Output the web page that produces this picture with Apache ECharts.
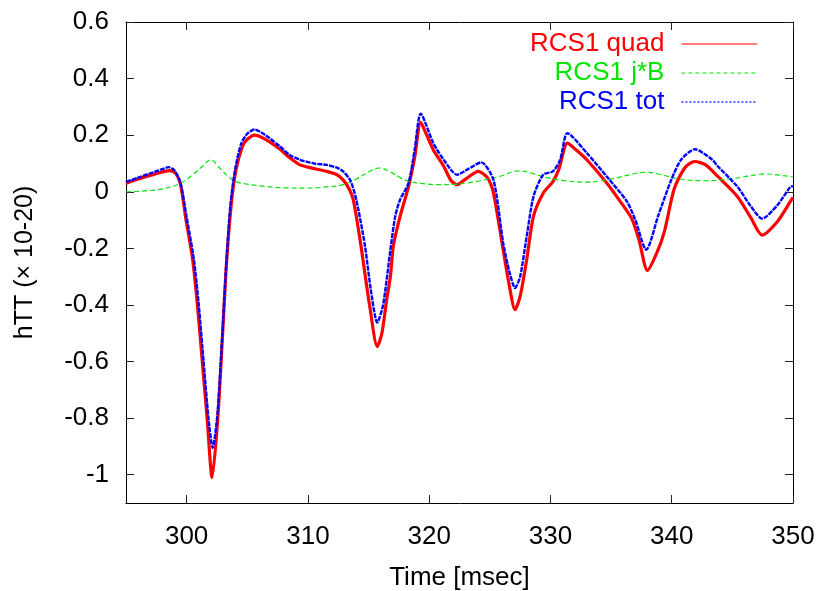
<!DOCTYPE html>
<html><head><meta charset="utf-8">
<script src="https://cdn.jsdelivr.net/npm/echarts@6/dist/echarts.min.js"></script>
<style>html,body{margin:0;padding:0;background:#fff}#c{width:819px;height:591px}</style>
</head><body><div id="c"></div><script>
const xTicks = [300, 310, 320, 330, 340, 350];
const yTicks = [-1, -0.8, -0.6, -0.4, -0.2, 0, 0.2, 0.4, 0.6];
const seriesNames = ['RCS1 quad', 'RCS1 j*B', 'RCS1 tot'];

const quadT = [295.0,296.0,297.0,298.0,298.6,299.1,299.5,299.95,300.5,300.9,301.3,301.7,302.1,302.56,302.97,303.25,303.66,304.07,304.6,305.0,305.6,306.5,307.7,308.5,309.35,310.5,311.55,312.4,312.9,313.4,313.75,314.3,315.1,315.72,316.1,316.5,316.8,317.05,317.6,318.3,318.8,319.3,319.8,320.34,321.2,321.8,322.3,323.0,324.05,324.8,325.3,326.1,326.6,327.08,327.5,328.04,328.6,329.4,330.2,330.7,331.4,332.2,333.0,334.64,335.6,336.7,337.3,338.0,338.76,339.4,340.2,341.1,341.9,342.8,343.8,345.4,346.5,347.45,348.7,349.76,350.0];
const quadV = [0.030,0.045,0.058,0.070,0.075,0.065,0.025,-0.10,-0.24,-0.405,-0.605,-0.806,-1.01,-0.806,-0.50,-0.276,-0.052,0.078,0.16,0.185,0.20,0.185,0.150,0.120,0.095,0.082,0.072,0.060,0.042,0.01,-0.03,-0.17,-0.405,-0.547,-0.50,-0.38,-0.30,-0.19,-0.087,0.019,0.12,0.245,0.20,0.148,0.09,0.04,0.025,0.045,0.072,0.05,-0.005,-0.205,-0.33,-0.417,-0.37,-0.24,-0.087,-0.005,0.036,0.08,0.172,0.145,0.113,0.031,-0.025,-0.095,-0.17,-0.278,-0.217,-0.14,0.01,0.086,0.107,0.095,0.054,-0.016,-0.09,-0.153,-0.106,-0.036,-0.02];

const jbT = [295,296.5,298,299.5,300.5,301.3,302.0,302.7,303.4,304.07,305.0,306.5,308.0,309.9,311.5,312.9,314.0,315.0,315.9,316.8,317.6,318.4,319.5,320.9,322.0,323.1,324.2,325.8,327.4,328.5,329.6,331.0,332.9,335.1,336.5,337.8,339.0,340.5,342.7,344.9,346.3,347.6,349.8,350];
const jbV = [0.0,0.003,0.01,0.03,0.06,0.09,0.113,0.085,0.055,0.036,0.027,0.019,0.014,0.013,0.017,0.025,0.045,0.07,0.084,0.07,0.05,0.036,0.029,0.025,0.026,0.031,0.039,0.054,0.074,0.065,0.051,0.04,0.034,0.046,0.06,0.069,0.062,0.046,0.039,0.046,0.055,0.063,0.054,0.053];

const totT = [295.0,296.0,297.0,298.0,298.5,299.0,299.5,300.0,300.6,301.0,301.4,301.8,302.15,302.55,302.95,303.25,303.6,304.0,304.5,305.0,305.6,306.5,307.7,308.5,309.35,310.5,311.55,312.4,312.9,313.5,314.0,314.7,315.2,315.72,316.2,316.8,317.2,317.6,318.3,318.8,319.3,320.34,321.2,322.3,323.2,324.3,325.3,326.1,326.6,327.08,327.5,328.04,328.6,329.4,330.2,330.8,331.4,333.0,334.64,336.3,337.0,337.9,338.9,340.0,340.8,341.9,343.3,343.8,345.4,346.5,347.45,348.7,349.76,350.0];
const totV = [0.035,0.05,0.065,0.08,0.087,0.075,0.03,-0.09,-0.24,-0.40,-0.60,-0.80,-0.905,-0.78,-0.50,-0.27,-0.05,0.08,0.17,0.205,0.22,0.20,0.16,0.13,0.113,0.10,0.095,0.085,0.072,0.04,-0.03,-0.19,-0.35,-0.462,-0.40,-0.205,-0.087,-0.028,0.031,0.148,0.276,0.172,0.113,0.06,0.08,0.104,0.042,-0.18,-0.28,-0.34,-0.30,-0.158,-0.017,0.06,0.072,0.113,0.207,0.137,0.054,-0.034,-0.10,-0.205,-0.083,0.046,0.115,0.15,0.115,0.09,0.019,-0.05,-0.095,-0.048,0.016,0.02];

function pairs(t, v) { return t.map((x, i) => [x, v[i]]); }
const FONT = 'Liberation Sans, Arial, sans-serif';
const RED = '#ff0000', GREEN = '#00e600', BLUE = '#0000ff';
const chart = echarts.init(document.getElementById('c'), null, {renderer: 'canvas'});
const axisCommon = {
  axisLine: {show: true, onZero: false, lineStyle: {color: '#000', width: 1}},
  axisTick: {show: true, inside: true, length: 8, lineStyle: {color: '#222', width: 1}},
  splitLine: {show: false}
};
chart.setOption({
  animation: false,
  backgroundColor: '#fff',
  grid: {left: 126, right: 26, top: 22, bottom: 88, containLabel: false, outerBoundsMode: 'none'},
  xAxis: [
    Object.assign({}, axisCommon, {
      type: 'value', min: 295, max: 350, position: 'bottom',
      axisTick: Object.assign({}, axisCommon.axisTick, {customValues: xTicks}),
      axisLabel: {customValues: xTicks, fontFamily: FONT, fontSize: 26, color: '#000', margin: 21},
      name: 'Time [msec]', nameLocation: 'middle', nameGap: 62,
      nameTextStyle: {fontFamily: FONT, fontSize: 26, color: '#000'}
    }),
    Object.assign({}, axisCommon, {
      type: 'value', min: 295, max: 350, position: 'top',
      axisTick: Object.assign({}, axisCommon.axisTick, {customValues: xTicks}),
      axisLabel: {show: false}
    })
  ],
  yAxis: [
    Object.assign({}, axisCommon, {
      type: 'value', min: -1.1, max: 0.6, position: 'left',
      axisTick: Object.assign({}, axisCommon.axisTick, {customValues: yTicks}),
      axisLabel: {customValues: yTicks, fontFamily: FONT, fontSize: 26, color: '#000', margin: 17,
        formatter: v => String(Math.round(v * 10) / 10)},
      name: 'hTT (× 10-20)', nameLocation: 'middle', nameGap: 88, nameRotate: 90,
      nameTextStyle: {fontFamily: FONT, fontSize: 25, color: '#000'}
    }),
    Object.assign({}, axisCommon, {
      type: 'value', min: -1.1, max: 0.6, position: 'right',
      axisTick: Object.assign({}, axisCommon.axisTick, {customValues: yTicks}),
      axisLabel: {show: false}
    })
  ],
  legend: {
    orient: 'vertical', align: 'right', right: 61, top: 30, padding: 0,
    itemWidth: 76, itemHeight: 14, itemGap: 1,
    itemStyle: {opacity: 0, borderWidth: 0},
    textStyle: {fontFamily: FONT, fontSize: 26, lineHeight: 28, padding: [0, 12, 0, 0]},
    data: [
      {name: seriesNames[0], textStyle: {color: RED}, itemStyle: {opacity: 0}, lineStyle: {width: 1.2, type: 'solid', color: RED}},
      {name: seriesNames[1], textStyle: {color: GREEN}, itemStyle: {opacity: 0}, lineStyle: {width: 1.2, type: [4, 3], color: GREEN}},
      {name: seriesNames[2], textStyle: {color: BLUE}, itemStyle: {opacity: 0}, lineStyle: {width: 1.2, type: [2, 2], color: BLUE}}
    ]
  },
  series: [
    {name: seriesNames[0], type: 'line', symbol: 'none', smooth: 0.25, color: RED,
      lineStyle: {width: 3.2, color: RED}, data: pairs(quadT, quadV), z: 2},
    {name: seriesNames[1], type: 'line', symbol: 'none', smooth: 0.4, color: GREEN,
      lineStyle: {width: 1.2, color: GREEN, type: [5, 3]}, data: pairs(jbT, jbV), z: 3},
    {name: seriesNames[2], type: 'line', symbol: 'none', smooth: 0.25, color: BLUE,
      lineStyle: {width: 2.4, color: BLUE, type: [5, 1]}, data: pairs(totT, totV), z: 4}
  ]
});
</script></body></html>
